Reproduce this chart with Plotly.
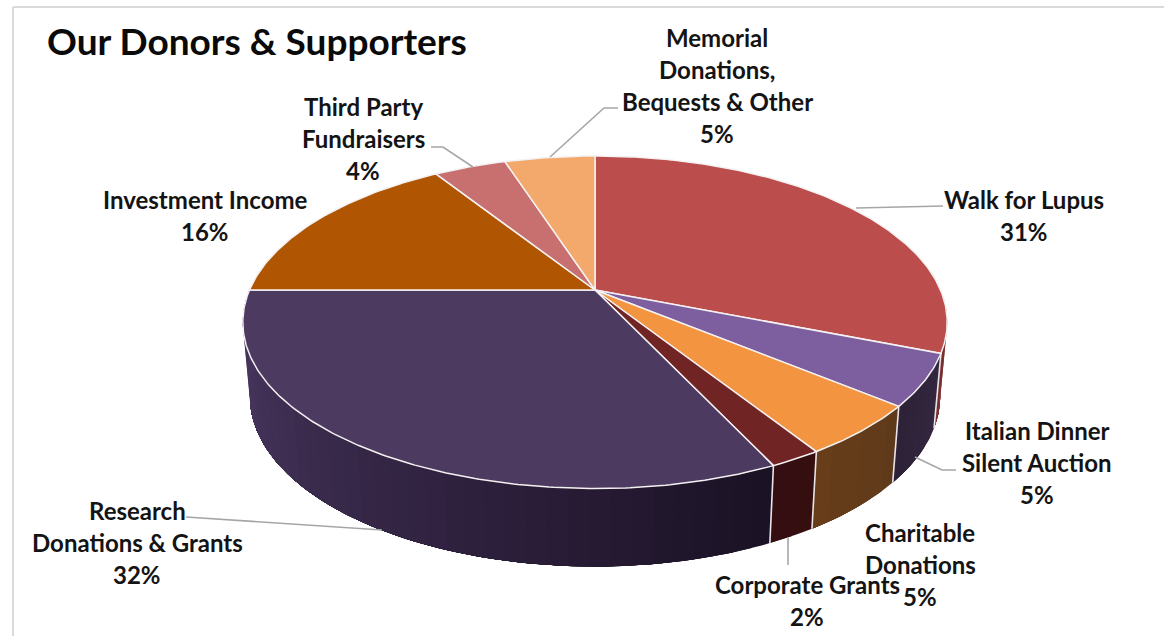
import numpy as np
import plotly.graph_objects as go

# ---- data ----
categories = ["Walk for Lupus", "Italian Dinner Silent Auction", "Charitable Donations",
              "Corporate Grants", "Research Donations & Grants", "Investment Income",
              "Third Party Fundraisers", "Memorial Donations, Bequests & Other"]
values = [31, 5, 5, 2, 32, 16, 4, 5]
label_lines = [["Walk for Lupus"], ["Italian Dinner", "Silent Auction"], ["Charitable", "Donations"],
               ["Corporate Grants"], ["Research", "Donations & Grants"], ["Investment Income"],
               ["Third Party", "Fundraisers"], ["Memorial", "Donations,", "Bequests & Other"]]
title_text = "Our Donors & Supporters"

# ---- style ----
top_colors = ["#BC4D4D", "#7D5F9F", "#F29440", "#702524", "#4D3A60", "#B05603", "#C86F6F", "#F3A96B"]
wall_colors = [("#7A3030", "#7A3030"), ("#33263F", "#2E2239"), ("#5F3A1A", "#673D1A"),
               ("#350F10", "#330E10"), ("#1B1225", "#46345C"), ("#B05603", "#B05603"),
               ("#C86F6F", "#C86F6F"), ("#F3A96B", "#F3A96B")]
label_pos = [(1024, 199), (1037, 430), (920, 532), (807, 584), (137, 510), (205, 199), (363, 106), (717, 37)]
LINE_H = 32.3
FONT = "Lato"
leaders = [[(856, 208), (943, 206)], [(915, 457), (942, 470), (956, 470)], None, [(788, 537), (788, 565)],
           [(186, 517), (382, 530)], None, [(473, 167), (443, 147), (431, 147)],
           [(550, 157), (604, 108), (618, 108)]]

# projection of the circular pie into the picture
CX, CY, R, B, K = 595.0, 290.0, 345.5, 160.0, 0.194


def top(theta):
    u, v = np.sin(theta), -np.cos(theta)
    s = 1 / (1 - K * v)
    return CX + R * u * s, CY + B * v * s


def bottom(theta):
    x, y = top(theta)
    v = -np.cos(theta)
    return CX + (x - CX) * 0.98, y + 73 + 5 * v


def mix(c1, c2, t):
    t = min(1.0, t)
    a = [int(c1[i:i + 2], 16) for i in (1, 3, 5)]
    b = [int(c2[i:i + 2], 16) for i in (1, 3, 5)]
    return "rgb(%d,%d,%d)" % tuple(round(p + (q - p) * t) for p, q in zip(a, b))


total = sum(values)
edges = np.cumsum([0] + values) / total * 2 * np.pi
fig = go.Figure()

# walls: overlapping bands, each painted up to the end of its slice so no seams show
for i in range(len(values)):
    a0, a1 = edges[i], edges[i + 1]
    lo, hi = max(a0, np.pi * 0.42), min(a1, np.pi * 1.58)
    if hi <= lo:
        continue
    n = max(2, int((hi - lo) / 0.05))
    starts = np.linspace(lo, hi, n + 1)[:-1]
    for t0 in starts:
        th = np.linspace(t0, hi, max(3, int((hi - t0) / 0.02)))
        xt, yt = top(th)
        xb, yb = bottom(th[::-1])
        col = mix(wall_colors[i][0], wall_colors[i][1], (t0 - lo) / (hi - lo) / 0.83)
        fig.add_trace(go.Scatter(x=list(xt) + list(xb), y=list(yt) + list(yb), mode="lines", fill="toself",
                                 fillcolor=col, line=dict(color=col, width=0), hoverinfo="skip", showlegend=False))

# white dividers on the wall
for a in edges[1:5]:
    xt, yt = top(a)
    xb, yb = bottom(a)
    fig.add_trace(go.Scatter(x=[xt, xb], y=[yt, yb], mode="lines", line=dict(color="#E8E4E8", width=1.6),
                             hoverinfo="skip", showlegend=False))

# top faces
for i in range(len(values)):
    th = np.linspace(edges[i], edges[i + 1], max(8, values[i] * 6))
    xs, ys = top(th)
    fig.add_trace(go.Scatter(x=[CX] + list(xs) + [CX], y=[CY] + list(ys) + [CY], mode="lines", fill="toself",
                             fillcolor=top_colors[i], line=dict(color="#F4F1F2", width=1.5),
                             name=categories[i], hoverinfo="name", showlegend=False))

annotations = [dict(x=45, y=40, text=title_text, xanchor="left", yanchor="middle", showarrow=False,
                    font=dict(family=FONT, size=37, color="#0A0A0A", weight=700))]
for i, lines in enumerate(label_lines):
    lx, ly = label_pos[i]
    for k, s in enumerate(lines + ["%d%%" % round(values[i] / total * 100)]):
        annotations.append(dict(x=lx, y=ly + k * LINE_H, text=s, xanchor="center", yanchor="middle", showarrow=False,
                                font=dict(family=FONT, size=24, color="#141414", weight=700)))

shapes = [dict(type="line", x0=13, x1=13, y0=7, y1=636, line=dict(color="#DADADA", width=2)),
          dict(type="line", x0=13, x1=1164, y0=7, y1=7, line=dict(color="#DADADA", width=2))]
for pts in leaders:
    if pts:
        path = "M" + " L".join("%g,%g" % p for p in pts)
        shapes.append(dict(type="path", path=path, line=dict(color="#A6A6A6", width=1.6)))

fig.update_layout(width=1164, height=636, margin=dict(l=0, r=0, t=0, b=0), paper_bgcolor="white",
                  plot_bgcolor="white", annotations=annotations, shapes=shapes, showlegend=False,
                  xaxis=dict(range=[0, 1164], visible=False, fixedrange=True),
                  yaxis=dict(range=[636, 0], visible=False, fixedrange=True))
fig.write_html("out.html", post_script="document.body.style.margin='0';", config={"displayModeBar": False})
